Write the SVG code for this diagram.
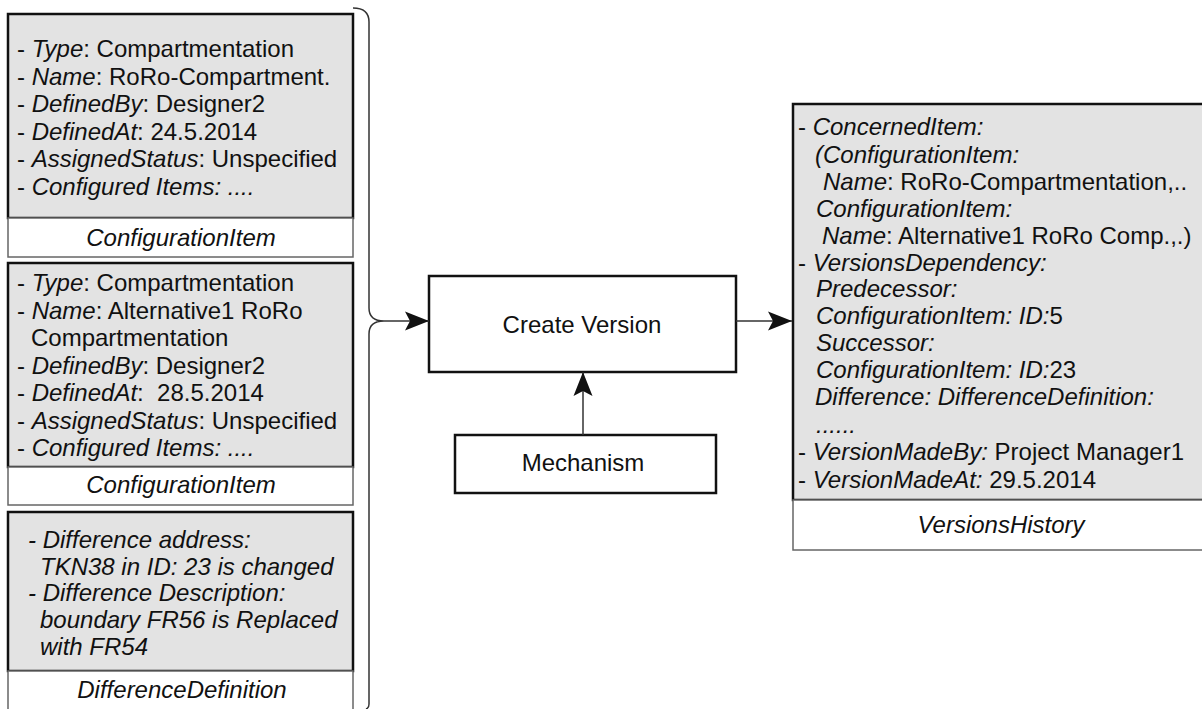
<svg xmlns="http://www.w3.org/2000/svg" width="1202" height="709" viewBox="0 0 1202 709">
  <style>
    text { font-family: "Liberation Sans", Arial, sans-serif; font-size: 24px; fill: #111; white-space: pre; }
    .i { font-style: italic; }
    .c { text-anchor: middle; }
    .body { fill: #e3e3e3; stroke: #111; stroke-width: 2.5; }
    .tag { fill: #fff; stroke: #666; stroke-width: 1.5; }
    .proc { fill: #fff; stroke: #111; stroke-width: 2.5; }
    .wire { fill: none; stroke: #333; stroke-width: 1.5; }
  </style>
  <defs>
    <marker id="arrow" markerUnits="userSpaceOnUse" markerWidth="26" markerHeight="22" viewBox="0 0 26 22" refX="24" refY="11" orient="auto">
      <path d="M0,1.5 L24,11 L0,20.5 L5,11 Z" fill="#111"/>
    </marker>
  </defs>

  <!-- first configuration item -->
  <g id="config-item-1">
    <rect class="body" x="8" y="14" width="345" height="204"/>
    <rect class="tag" x="8" y="218" width="345" height="39"/>
    <text x="17" y="57">- <tspan class="i">Type</tspan>: Compartmentation</text>
    <text x="17" y="84.6">- <tspan class="i">Name</tspan>: RoRo-Compartment.</text>
    <text x="17" y="112.2">- <tspan class="i">DefinedBy</tspan>: Designer2</text>
    <text x="17" y="139.8">- <tspan class="i">DefinedAt</tspan>: 24.5.2014</text>
    <text x="17" y="167.4">- <tspan class="i">AssignedStatus</tspan>: Unspecified</text>
    <text x="17" y="195">- <tspan class="i">Configured Items: ....</tspan></text>
    <text class="i c" x="181" y="246">ConfigurationItem</text>
  </g>

  <!-- second configuration item -->
  <g id="config-item-2">
    <rect class="body" x="8" y="263" width="345" height="204"/>
    <rect class="tag" x="8" y="467" width="345" height="38"/>
    <text x="17" y="291">- <tspan class="i">Type</tspan>: Compartmentation</text>
    <text x="17" y="318.5">- <tspan class="i">Name</tspan>: Alternative1 RoRo</text>
    <text x="31" y="346">Compartmentation</text>
    <text x="17" y="373.5">- <tspan class="i">DefinedBy</tspan>: Designer2</text>
    <text x="17" y="401">- <tspan class="i">DefinedAt</tspan>:  28.5.2014</text>
    <text x="17" y="428.5">- <tspan class="i">AssignedStatus</tspan>: Unspecified</text>
    <text x="17" y="456">- <tspan class="i">Configured Items: ....</tspan></text>
    <text class="i c" x="181" y="493">ConfigurationItem</text>
  </g>

  <!-- difference definition -->
  <g id="difference-definition">
    <rect class="body" x="8" y="512" width="345" height="159"/>
    <rect class="tag" x="8" y="671" width="345" height="50"/>
    <text class="i" x="28" y="548">- Difference address:</text>
    <text class="i" x="40" y="575">TKN38 in ID: 23 is changed</text>
    <text class="i" x="28" y="601">- Difference Description:</text>
    <text class="i" x="40" y="628">boundary FR56 is Replaced</text>
    <text class="i" x="40" y="655">with FR54</text>
    <text class="i c" x="182" y="698">DifferenceDefinition</text>
  </g>

  <!-- activity -->
  <g id="create-version">
    <rect class="proc" x="429" y="276" width="307" height="96"/>
    <text class="c" x="582" y="333">Create Version</text>
  </g>

  <g id="mechanism">
    <rect class="proc" x="455" y="435" width="261" height="58"/>
    <text class="c" x="583" y="471">Mechanism</text>
  </g>

  <!-- versions history -->
  <g id="versions-history">
    <rect class="body" x="793" y="104" width="416" height="396"/>
    <rect class="tag" x="793" y="500" width="416" height="50"/>
    <text x="798" y="135">- <tspan class="i">ConcernedItem:</tspan></text>
    <text class="i" x="815" y="163">(ConfigurationItem:</text>
    <text x="823" y="190"><tspan class="i">Name</tspan>: RoRo-Compartmentation,..</text>
    <text class="i" x="816" y="217">ConfigurationItem:</text>
    <text x="822" y="244"><tspan class="i">Name</tspan>: Alternative1 RoRo Comp.,.)</text>
    <text x="798" y="271">- <tspan class="i">VersionsDependency:</tspan></text>
    <text class="i" x="816" y="297">Predecessor:</text>
    <text x="816" y="324"><tspan class="i">ConfigurationItem: ID:</tspan>5</text>
    <text class="i" x="816" y="351">Successor:</text>
    <text x="816" y="378"><tspan class="i">ConfigurationItem: ID:</tspan>23</text>
    <text class="i" x="815" y="405">Difference: DifferenceDefinition:</text>
    <text class="i" x="816" y="433">......</text>
    <text x="798" y="460">- <tspan class="i">VersionMadeBy:</tspan> Project Manager1</text>
    <text x="798" y="488">- <tspan class="i">VersionMadeAt:</tspan> 29.5.2014</text>
    <text class="i c" x="1001" y="533">VersionsHistory</text>
  </g>

  <!-- connectors -->
  <g id="connectors">
    <path class="wire" d="M353,8 Q369,8 369,22 V308 Q369,321 384,321 Q369,321 369,334 V704 Q369,708 366,709"/>
    <path class="wire" d="M384,321 H429" marker-end="url(#arrow)"/>
    <path class="wire" d="M736,321 H792" marker-end="url(#arrow)"/>
    <path class="wire" d="M583,435 V372" marker-end="url(#arrow)"/>
  </g>
</svg>
